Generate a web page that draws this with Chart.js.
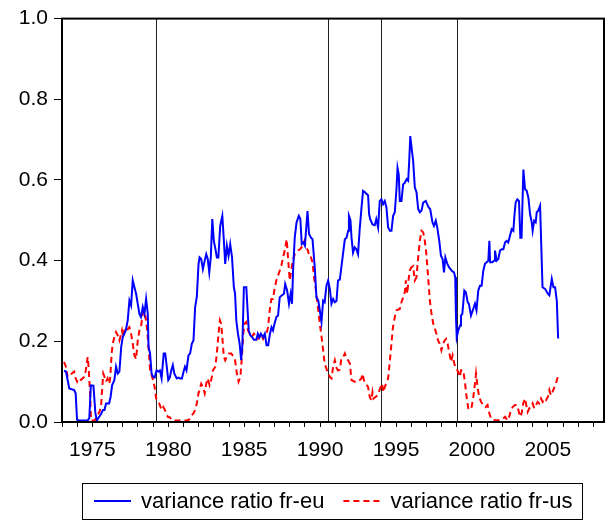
<!DOCTYPE html>
<html>
<head>
<meta charset="utf-8">
<script src="https://cdn.jsdelivr.net/npm/chart.js@4.4.1/dist/chart.umd.min.js"></script>
<style>
  body { margin: 0; background: #fff; }
  canvas { display: block; }
</style>
</head>
<body>
<canvas id="chart" width="606" height="521"></canvas>
<script>
// variance ratio fr-eu
const euYears = [
  1973.13, 1973.26, 1973.48, 1973.8, 1973.9, 1973.99, 1974.1, 1974.7, 1974.8, 1974.9,
  1975.07, 1975.2, 1975.3, 1975.4, 1975.57, 1975.7, 1975.8, 1975.9, 1976.1, 1976.2,
  1976.3, 1976.45, 1976.56, 1976.67, 1976.78, 1976.9, 1977.0, 1977.2, 1977.33, 1977.44,
  1977.55, 1977.66, 1977.77, 1977.88, 1977.99, 1978.1, 1978.2, 1978.32, 1978.43, 1978.54,
  1978.65, 1978.7, 1978.8, 1978.9, 1979.0, 1979.1, 1979.23, 1979.34, 1979.45, 1979.56,
  1979.7, 1979.8, 1979.9, 1980.0, 1980.1, 1980.2, 1980.3, 1980.4, 1980.56, 1980.67,
  1980.78, 1980.9, 1981.0, 1981.1, 1981.2, 1981.33, 1981.44, 1981.55, 1981.66, 1981.77,
  1981.88, 1981.99, 1982.06, 1982.17, 1982.28, 1982.4, 1982.5, 1982.6, 1982.7, 1982.8,
  1982.9, 1983.0, 1983.1, 1983.2, 1983.3, 1983.42, 1983.56, 1983.65, 1983.75, 1983.86,
  1983.97, 1984.08, 1984.2, 1984.32, 1984.4, 1984.48, 1984.59, 1984.7, 1984.8, 1984.88,
  1984.98, 1985.14, 1985.2, 1985.3, 1985.4, 1985.53, 1985.64, 1985.8, 1985.9, 1986.0,
  1986.1, 1986.25, 1986.36, 1986.47, 1986.58, 1986.7, 1986.8, 1986.9, 1987.0, 1987.12,
  1987.23, 1987.34, 1987.45, 1987.62, 1987.7, 1987.83, 1987.95, 1988.06, 1988.15, 1988.22,
  1988.33, 1988.45, 1988.6, 1988.7, 1988.79, 1988.9, 1989.0, 1989.17, 1989.27, 1989.4,
  1989.5, 1989.65, 1989.76, 1989.88, 1989.98, 1990.09, 1990.2, 1990.3, 1990.42, 1990.53,
  1990.64, 1990.75, 1990.86, 1990.97, 1991.08, 1991.18, 1991.3, 1991.4, 1991.52, 1991.63,
  1991.74, 1991.85, 1991.9, 1992.0, 1992.07, 1992.17, 1992.28, 1992.39, 1992.5, 1992.6,
  1992.73, 1992.83, 1992.94, 1993.05, 1993.16, 1993.23, 1993.3, 1993.45, 1993.6, 1993.7,
  1993.82, 1993.93, 1994.04, 1994.15, 1994.26, 1994.37, 1994.48, 1994.6, 1994.7, 1994.81,
  1994.92, 1995.03, 1995.1, 1995.18, 1995.25, 1995.36, 1995.47, 1995.58, 1995.7, 1995.8,
  1995.87, 1995.94, 1996.0, 1996.13, 1996.24, 1996.35, 1996.46, 1996.57, 1996.68, 1996.79,
  1996.96, 1997.05, 1997.15, 1997.25, 1997.4, 1997.5, 1997.62, 1997.72, 1997.85, 1997.96,
  1998.07, 1998.16, 1998.25, 1998.38, 1998.5, 1998.67, 1998.82, 1998.9, 1998.95, 1999.0,
  1999.1, 1999.22, 1999.28, 1999.37, 1999.5, 1999.6, 1999.72, 1999.8, 1999.94, 2000.06,
  2000.2, 2000.3, 2000.42, 2000.53, 2000.64, 2000.75, 2000.86, 2000.97, 2001.08, 2001.15,
  2001.2, 2001.35, 2001.46, 2001.52, 2001.63, 2001.74, 2001.85, 2001.96, 2002.07, 2002.18,
  2002.28, 2002.39, 2002.51, 2002.62, 2002.73, 2002.79, 2002.88, 2002.99, 2003.1, 2003.19,
  2003.27, 2003.39, 2003.5, 2003.61, 2003.72, 2003.83, 2003.94, 2004.0, 2004.1, 2004.2,
  2004.27, 2004.37, 2004.49, 2004.65, 2004.82, 2005.0, 2005.1, 2005.26, 2005.37, 2005.48,
  2005.59, 2005.68
];
const euValues = [
  0.127, 0.125, 0.083, 0.079, 0.071, 0.006, 0.004, 0.004, 0.01, 0.091,
  0.09, 0.022, 0.004, 0.01, 0.02, 0.03, 0.03, 0.046, 0.046, 0.062,
  0.091, 0.104, 0.137, 0.12, 0.125, 0.186, 0.21, 0.227, 0.252, 0.301,
  0.289, 0.351, 0.334, 0.318, 0.293, 0.268, 0.26, 0.285, 0.268, 0.305,
  0.268, 0.186, 0.17, 0.12, 0.112, 0.11, 0.128, 0.125, 0.128, 0.108,
  0.17, 0.17, 0.137, 0.104, 0.11, 0.128, 0.141, 0.12, 0.108, 0.11,
  0.108, 0.108, 0.124, 0.137, 0.128, 0.165, 0.17, 0.194, 0.202, 0.285,
  0.31, 0.39, 0.408, 0.404, 0.379, 0.4, 0.416, 0.404, 0.371, 0.408,
  0.503, 0.449, 0.43, 0.408, 0.408, 0.486, 0.511, 0.457, 0.392, 0.437,
  0.412, 0.441, 0.408, 0.334, 0.318, 0.252, 0.219, 0.194, 0.153, 0.19,
  0.334, 0.334, 0.293, 0.227, 0.215, 0.21, 0.204, 0.204, 0.219, 0.21,
  0.219, 0.21, 0.219, 0.19, 0.19, 0.219, 0.235, 0.227, 0.244, 0.26,
  0.264, 0.309, 0.313, 0.318, 0.342, 0.326, 0.293, 0.318, 0.293, 0.375,
  0.457, 0.495, 0.511, 0.503, 0.441, 0.445, 0.437, 0.523, 0.466, 0.457,
  0.453, 0.383, 0.309, 0.301, 0.277, 0.248, 0.301, 0.297, 0.338, 0.351,
  0.33, 0.293, 0.305, 0.297, 0.3, 0.351, 0.353, 0.383, 0.42, 0.453,
  0.457, 0.474, 0.511, 0.5, 0.457, 0.42, 0.433, 0.428, 0.416, 0.474,
  0.532, 0.573, 0.57, 0.566, 0.562, 0.515, 0.503, 0.49, 0.488, 0.503,
  0.482, 0.548, 0.552, 0.54, 0.548, 0.532, 0.482, 0.474, 0.474, 0.511,
  0.52, 0.577, 0.63, 0.614, 0.548, 0.548, 0.589, 0.593, 0.602, 0.598,
  0.647, 0.709, 0.688, 0.647, 0.581, 0.57, 0.528, 0.52, 0.524, 0.544,
  0.548, 0.54, 0.532, 0.528, 0.495, 0.486, 0.499, 0.482, 0.449, 0.412,
  0.404, 0.371, 0.408, 0.392, 0.383, 0.375, 0.371, 0.359, 0.26, 0.21,
  0.227, 0.239, 0.264, 0.268, 0.326, 0.322, 0.297, 0.293, 0.264, 0.277,
  0.293, 0.277, 0.326, 0.338, 0.338, 0.375, 0.392, 0.396, 0.4, 0.449,
  0.396, 0.396, 0.4, 0.425, 0.4, 0.404, 0.425, 0.428, 0.428, 0.445,
  0.449, 0.445, 0.462, 0.478, 0.474, 0.507, 0.544, 0.552, 0.548, 0.457,
  0.457, 0.626, 0.577, 0.573, 0.556, 0.515, 0.495, 0.474, 0.499, 0.495,
  0.52, 0.524, 0.536, 0.334, 0.33, 0.318, 0.314, 0.355, 0.334, 0.334,
  0.301, 0.207
];

// variance ratio fr-us
const usYears = [
  1973.13, 1973.26, 1973.37, 1973.48, 1973.63, 1973.8, 1973.9, 1974.0, 1974.1, 1974.25,
  1974.47, 1974.57, 1974.69, 1974.75, 1974.85, 1974.91, 1975.0, 1975.15, 1975.24, 1975.35,
  1975.46, 1975.57, 1975.64, 1975.72, 1975.8, 1975.9, 1976.0, 1976.12, 1976.18, 1976.27,
  1976.34, 1976.45, 1976.56, 1976.67, 1976.78, 1976.9, 1976.95, 1977.03, 1977.1, 1977.22,
  1977.33, 1977.44, 1977.55, 1977.66, 1977.77, 1977.88, 1977.99, 1978.1, 1978.2, 1978.32,
  1978.43, 1978.54, 1978.65, 1978.76, 1978.8, 1978.94, 1979.1, 1979.2, 1979.3, 1979.4,
  1979.56, 1979.67, 1979.78, 1979.9, 1980.0, 1980.1, 1980.2, 1980.3, 1980.78, 1981.2,
  1981.33, 1981.44, 1981.55, 1981.66, 1981.77, 1981.88, 1981.99, 1982.06, 1982.17, 1982.28,
  1982.4, 1982.5, 1982.6, 1982.72, 1982.83, 1982.94, 1983.1, 1983.2, 1983.31, 1983.4,
  1983.48, 1983.56, 1983.66, 1983.75, 1983.88, 1984.0, 1984.15, 1984.32, 1984.4, 1984.52,
  1984.63, 1984.75, 1984.85, 1984.94, 1985.03, 1985.14, 1985.25, 1985.36, 1985.47, 1985.64,
  1985.8, 1985.9, 1986.0, 1986.1, 1986.25, 1986.36, 1986.47, 1986.57, 1986.68, 1986.79,
  1986.9, 1987.0, 1987.12, 1987.23, 1987.34, 1987.45, 1987.56, 1987.67, 1987.8, 1987.9,
  1988.0, 1988.1, 1988.2, 1988.33, 1988.55, 1988.7, 1988.86, 1988.97, 1989.08, 1989.2,
  1989.3, 1989.4, 1989.5, 1989.6, 1989.7, 1989.8, 1989.88, 1989.98, 1990.1, 1990.2,
  1990.3, 1990.42, 1990.53, 1990.64, 1990.75, 1990.86, 1990.97, 1991.08, 1991.18, 1991.3,
  1991.4, 1991.52, 1991.63, 1991.74, 1991.85, 1991.96, 1992.07, 1992.28, 1992.5, 1992.72,
  1992.8, 1992.88, 1993.0, 1993.16, 1993.27, 1993.38, 1993.45, 1993.52, 1993.65, 1993.8,
  1993.95, 1994.08, 1994.17, 1994.3, 1994.48, 1994.6, 1994.7, 1994.8, 1994.92, 1995.03,
  1995.25, 1995.36, 1995.47, 1995.58, 1995.65, 1995.74, 1995.83, 1995.9, 1996.0, 1996.13,
  1996.24, 1996.35, 1996.46, 1996.57, 1996.68, 1996.79, 1996.9, 1997.0, 1997.1, 1997.23,
  1997.34, 1997.45, 1997.56, 1997.66, 1997.77, 1997.88, 1997.99, 1998.1, 1998.2, 1998.3,
  1998.4, 1998.52, 1998.62, 1998.73, 1998.84, 1998.94, 1999.05, 1999.2, 1999.28, 1999.43,
  1999.55, 1999.65, 1999.76, 1999.87, 1999.98, 2000.09, 2000.2, 2000.27, 2000.37, 2000.48,
  2000.6, 2000.75, 2000.9, 2001.03, 2001.15, 2001.26, 2001.4, 2001.63, 2001.85, 2002.07,
  2002.18, 2002.35, 2002.46, 2002.57, 2002.68, 2002.84, 2002.95, 2003.06, 2003.17, 2003.27,
  2003.38, 2003.5, 2003.56, 2003.67, 2003.78, 2003.9, 2004.0, 2004.1, 2004.22, 2004.33,
  2004.44, 2004.55, 2004.66, 2004.77, 2004.88, 2005.0, 2005.1, 2005.2, 2005.3, 2005.4,
  2005.5, 2005.66
];
const usValues = [
  0.149, 0.137, 0.112, 0.112, 0.12, 0.125, 0.108, 0.1, 0.108, 0.104,
  0.112, 0.128, 0.161, 0.137, 0.071, 0.004, 0.004, 0.004, 0.009, 0.017,
  0.025, 0.037, 0.079, 0.12, 0.112, 0.1, 0.108, 0.095, 0.112, 0.17,
  0.194, 0.21, 0.223, 0.215, 0.202, 0.219, 0.227, 0.21, 0.227, 0.235,
  0.23, 0.235, 0.219, 0.194, 0.165, 0.156, 0.202, 0.227, 0.235, 0.268,
  0.276, 0.252, 0.21, 0.153, 0.128, 0.112, 0.087, 0.058, 0.054, 0.046,
  0.03, 0.037, 0.03, 0.017, 0.012, 0.012, 0.006, 0.004, 0.004, 0.004,
  0.005, 0.009, 0.017, 0.021, 0.03, 0.046, 0.071, 0.079, 0.095, 0.087,
  0.071, 0.095, 0.108, 0.091, 0.104, 0.128, 0.137, 0.17, 0.219, 0.252,
  0.244, 0.21, 0.161, 0.153, 0.165, 0.17, 0.17, 0.161, 0.153, 0.12,
  0.1, 0.112, 0.161, 0.219, 0.244, 0.248, 0.227, 0.219, 0.21, 0.219,
  0.21, 0.206, 0.21, 0.219, 0.206, 0.215, 0.219, 0.235, 0.277, 0.305,
  0.305, 0.33, 0.351, 0.363, 0.375, 0.388, 0.408, 0.425, 0.453, 0.4,
  0.351, 0.375, 0.4, 0.416, 0.425, 0.429, 0.437, 0.449, 0.433, 0.425,
  0.408, 0.408, 0.396, 0.359, 0.334, 0.301, 0.277, 0.244, 0.21, 0.178,
  0.145, 0.132, 0.12, 0.112, 0.108, 0.137, 0.153, 0.134, 0.128, 0.13,
  0.157, 0.161, 0.17, 0.157, 0.153, 0.145, 0.104, 0.1, 0.1, 0.108,
  0.12, 0.104, 0.095, 0.087, 0.062, 0.054, 0.074, 0.058, 0.062, 0.067,
  0.083, 0.095, 0.074, 0.091, 0.108, 0.153, 0.194, 0.235, 0.26, 0.277,
  0.28, 0.297, 0.309, 0.322, 0.351, 0.318, 0.353, 0.375, 0.383, 0.386,
  0.351, 0.359, 0.408, 0.449, 0.474, 0.47, 0.449, 0.416, 0.367, 0.301,
  0.268, 0.244, 0.232, 0.219, 0.202, 0.194, 0.178, 0.194, 0.202, 0.206,
  0.194, 0.17, 0.149, 0.165, 0.145, 0.132, 0.128, 0.112, 0.128, 0.128,
  0.095, 0.062, 0.034, 0.03, 0.037, 0.062, 0.095, 0.12, 0.087, 0.062,
  0.05, 0.042, 0.037, 0.042, 0.021, 0.009, 0.005, 0.004, 0.005, 0.009,
  0.013, 0.004, 0.013, 0.03, 0.037, 0.042, 0.042, 0.03, 0.013, 0.021,
  0.046, 0.058, 0.046, 0.025, 0.034, 0.037, 0.046, 0.034, 0.042, 0.05,
  0.046, 0.058, 0.05, 0.058, 0.054, 0.062, 0.079, 0.066, 0.074, 0.083,
  0.091, 0.112
];

const breakYears = [1979.17, 1990.5, 1994.0, 1999.0];
const seriesLabels = ['variance ratio fr-eu', 'variance ratio fr-us'];

const FONT = '"Liberation Sans", Arial, sans-serif';

function toPoints(xs, ys) {
  return xs.map((x, i) => ({ x: x, y: ys[i] }));
}

// vertical break lines and the closed frame
const frame = {
  id: 'frame',
  beforeDatasetsDraw(chart) {
    const { ctx, chartArea: a } = chart;
    const x = chart.scales.x;
    ctx.save();
    ctx.strokeStyle = '#222';
    ctx.lineWidth = 1;
    breakYears.forEach(yr => {
      const px = Math.round(x.getPixelForValue(yr)) + 0.5;
      ctx.beginPath();
      ctx.moveTo(px, a.top);
      ctx.lineTo(px, a.bottom);
      ctx.stroke();
    });
    ctx.restore();
  },
  afterDraw(chart) {
    const { ctx, chartArea: a } = chart;
    ctx.save();
    ctx.strokeStyle = '#000';
    ctx.lineWidth = 2;
    ctx.strokeRect(a.left, a.top, a.right - a.left, a.bottom - a.top);
    ctx.restore();
  }
};

// boxed legend under the axis
const boxLegend = {
  id: 'boxLegend',
  afterDraw(chart) {
    const ctx = chart.ctx;
    const a = chart.chartArea;
    ctx.save();
    ctx.font = '22px ' + FONT;
    const sample = 37, gap = 10, between = 19, padL = 12, padR = 9;
    const items = chart.data.datasets.map(ds => ({ ds: ds, w: ctx.measureText(ds.label).width }));
    let total = padL + padR;
    items.forEach((it, i) => { total += sample + gap + it.w + (i ? between : 0); });
    const left = Math.round((a.left + a.right) / 2 - total / 2) - 1;
    const top = 483, h = 36;
    ctx.strokeStyle = '#000';
    ctx.lineWidth = 1;
    ctx.strokeRect(left + 0.5, top + 0.5, Math.round(total), h);
    const cy = top + h / 2;
    let x = left + padL;
    items.forEach((it, i) => {
      if (i) x += between;
      ctx.strokeStyle = it.ds.borderColor;
      ctx.lineWidth = 2;
      ctx.setLineDash(it.ds.borderDash || []);
      ctx.beginPath();
      ctx.moveTo(x, cy);
      ctx.lineTo(x + sample, cy);
      ctx.stroke();
      ctx.setLineDash([]);
      x += sample + gap;
      ctx.fillStyle = '#000';
      ctx.textBaseline = 'middle';
      ctx.fillText(it.ds.label, x, cy + 1);
      x += it.w;
    });
    ctx.restore();
  }
};

new Chart(document.getElementById('chart'), {
  type: 'line',
  data: {
    datasets: [
      {
        label: seriesLabels[0],
        data: toPoints(euYears, euValues),
        borderColor: '#0000ff',
        borderWidth: 2,
        pointRadius: 0,
        tension: 0,
        fill: false
      },
      {
        label: seriesLabels[1],
        data: toPoints(usYears, usValues),
        borderColor: '#ff0000',
        borderWidth: 2,
        borderDash: [6, 4],
        pointRadius: 0,
        tension: 0,
        fill: false
      }
    ]
  },
  options: {
    responsive: false,
    animation: false,
    layout: { padding: { top: 17, right: 2, bottom: 51, left: 0 } },
    plugins: {
      legend: { display: false },
      tooltip: { enabled: false }
    },
    scales: {
      x: {
        type: 'linear',
        min: 1973,
        max: 2008.7,
        afterBuildTicks: s => {
          s.ticks = [];
          for (let y = 1973; y <= 2008; y++) s.ticks.push({ value: y });
        },
        afterFit: s => { s.height = 48; },
        ticks: {
          autoSkip: false,
          maxRotation: 0,
          padding: 11,
          color: '#000',
          font: { family: FONT, size: 21 },
          callback: v => (v % 5 === 0 ? String(v) : '')
        },
        grid: { drawOnChartArea: false, tickLength: 5, color: '#000', lineWidth: 1 },
        border: { display: true, color: '#000', width: 2 }
      },
      y: {
        min: 0,
        max: 1,
        afterFit: s => { s.width = 62; },
        ticks: {
          stepSize: 0.2,
          padding: 6,
          color: '#000',
          font: { family: FONT, size: 21 },
          callback: v => v.toFixed(1)
        },
        grid: { drawOnChartArea: false, tickLength: 8, color: '#000', lineWidth: 1 },
        border: { display: true, color: '#000', width: 2 }
      }
    }
  },
  plugins: [frame, boxLegend]
});
</script>
</body>
</html>
